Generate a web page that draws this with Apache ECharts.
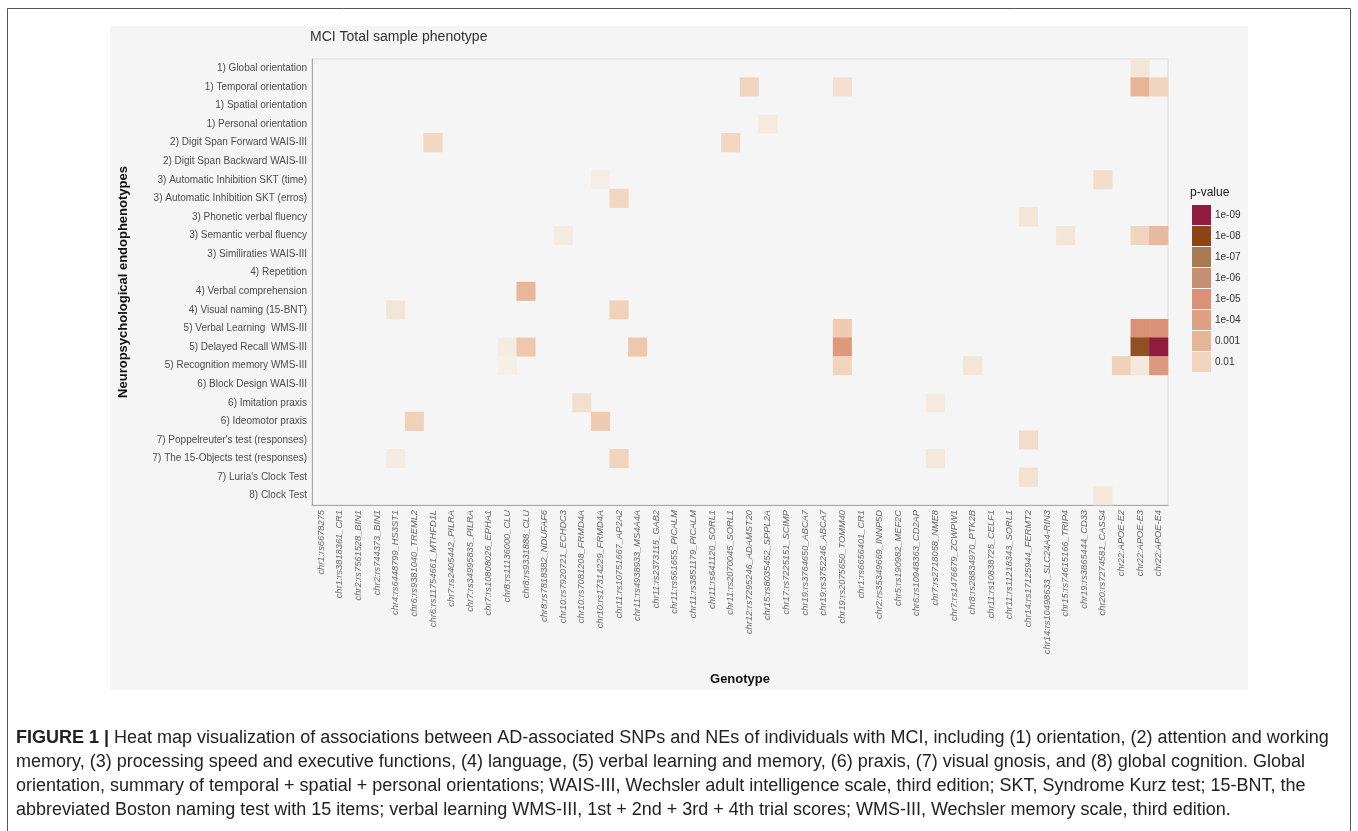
<!DOCTYPE html>
<html>
<head>
<meta charset="utf-8">
<script src="https://cdn.jsdelivr.net/npm/echarts@6/dist/echarts.min.js"></script>
<style>
html,body{margin:0;padding:0;background:#fff;}
#chart{width:1358px;height:831px;}
</style>
</head>
<body>
<div id="chart"></div>
<script>
// ---- data ----
const chartTitle = 'MCI Total sample phenotype';
const xAxisTitle = 'Genotype';
const yAxisTitle = 'Neuropsychological endophenotypes';
const legendTitle = 'p-value';

const genotypes = [
  'chr1:rs6678275', 'chr1:rs3818361_CR1', 'chr2:rs7561528_BIN1', 'chr2:rs744373_BIN1',
  'chr4:rs6448799_HS3ST1', 'chr6:rs9381040_TREML2', 'chr6:rs11754661_MTHFD1L',
  'chr7:rs2405442_PILRA', 'chr7:rs34995835_PILRA', 'chr7:rs10808026_EPHA1',
  'chr8:rs11136000_CLU', 'chr8:rs9331888_CLU', 'chr8:rs7818382_NDUFAF6',
  'chr10:rs7920721_ECHDC3', 'chr10:rs7081208_FRMD4A', 'chr10:rs17314229_FRMD4A',
  'chr11:rs10751667_AP2A2', 'chr11:rs4938933_MS4A4A', 'chr11:rs2373115_GAB2',
  'chr11:rs561655_PICALM', 'chr11:rs3851179_PICALM', 'chr11:rs641120_SORL1',
  'chr11:rs2070045_SORL1', 'chr12:rs7295246_ADAMST20', 'chr15:rs8035452_SPPL2A',
  'chr17:rs7225151_SCIMP', 'chr19:rs3764650_ABCA7', 'chr19:rs3752246_ABCA7',
  'chr19:rs2075650_TOMM40', 'chr1:rs6656401_CR1', 'chr2:rs35349669_INNP5D',
  'chr5:rs190982_MEF2C', 'chr6:rs10948363_CD2AP', 'chr7:rs2718058_NME8',
  'chr7:rs1476679_ZCWPW1', 'chr8:rs28834970_PTK2B', 'chr11:rs10838725_CELF1',
  'chr11:rs11218343_SORL1', 'chr14:rs17125944_FERMT2', 'chr14:rs10498633_SLC24A4-RIN3',
  'chr15:rs74615166_TRIP4', 'chr19:rs3865444_CD33', 'chr20:rs7274581_CASS4',
  'chr22:APOE-E2', 'chr22:APOE-E3', 'chr22:APOE-E4'
];

const phenotypes = [
  '1) Global orientation', '1) Temporal orientation', '1) Spatial orientation',
  '1) Personal orientation', '2) Digit Span Forward WAIS-III', '2) Digit Span Backward WAIS-III',
  '3) Automatic Inhibition SKT (time)', '3) Automatic Inhibition SKT (erros)',
  '3) Phonetic verbal fluency', '3) Semantic verbal fluency', '3) Similiraties WAIS-III',
  '4) Repetition', '4) Verbal comprehension', '4) Visual naming (15-BNT)',
  '5) Verbal Learning  WMS-III', '5) Delayed Recall WMS-III', '5) Recognition memory WMS-III',
  '6) Block Design WAIS-III', '6) Imitation praxis', '6) Ideomotor praxis',
  "7) Poppelreuter's test (responses)", '7) The 15-Objects test (responses)',
  "7) Luria's Clock Test", '8) Clock Test'
];

// significant associations: genotype, phenotype, p-value
const cellGenotype = [
  'chr22:APOE-E3', 'chr12:rs7295246_ADAMST20', 'chr19:rs2075650_TOMM40', 'chr22:APOE-E3', 'chr22:APOE-E4',
  'chr15:rs8035452_SPPL2A', 'chr6:rs11754661_MTHFD1L', 'chr11:rs2070045_SORL1',
  'chr10:rs17314229_FRMD4A', 'chr20:rs7274581_CASS4', 'chr11:rs10751667_AP2A2',
  'chr14:rs17125944_FERMT2', 'chr10:rs7920721_ECHDC3', 'chr15:rs74615166_TRIP4', 'chr22:APOE-E3', 'chr22:APOE-E4',
  'chr8:rs9331888_CLU', 'chr4:rs6448799_HS3ST1', 'chr11:rs10751667_AP2A2',
  'chr19:rs2075650_TOMM40', 'chr22:APOE-E3', 'chr22:APOE-E4',
  'chr8:rs11136000_CLU', 'chr8:rs9331888_CLU', 'chr11:rs4938933_MS4A4A', 'chr19:rs2075650_TOMM40', 'chr22:APOE-E3', 'chr22:APOE-E4',
  'chr8:rs11136000_CLU', 'chr19:rs2075650_TOMM40', 'chr8:rs28834970_PTK2B', 'chr22:APOE-E2', 'chr22:APOE-E3', 'chr22:APOE-E4',
  'chr10:rs7081208_FRMD4A', 'chr7:rs2718058_NME8',
  'chr6:rs9381040_TREML2', 'chr10:rs17314229_FRMD4A',
  'chr14:rs17125944_FERMT2',
  'chr4:rs6448799_HS3ST1', 'chr11:rs10751667_AP2A2', 'chr7:rs2718058_NME8',
  'chr14:rs17125944_FERMT2',
  'chr20:rs7274581_CASS4'
];
const cellPhenotype = [
  '1) Global orientation', '1) Temporal orientation', '1) Temporal orientation', '1) Temporal orientation', '1) Temporal orientation',
  '1) Personal orientation', '2) Digit Span Forward WAIS-III', '2) Digit Span Forward WAIS-III',
  '3) Automatic Inhibition SKT (time)', '3) Automatic Inhibition SKT (time)', '3) Automatic Inhibition SKT (erros)',
  '3) Phonetic verbal fluency', '3) Semantic verbal fluency', '3) Semantic verbal fluency', '3) Semantic verbal fluency', '3) Semantic verbal fluency',
  '4) Verbal comprehension', '4) Visual naming (15-BNT)', '4) Visual naming (15-BNT)',
  '5) Verbal Learning  WMS-III', '5) Verbal Learning  WMS-III', '5) Verbal Learning  WMS-III',
  '5) Delayed Recall WMS-III', '5) Delayed Recall WMS-III', '5) Delayed Recall WMS-III', '5) Delayed Recall WMS-III', '5) Delayed Recall WMS-III', '5) Delayed Recall WMS-III',
  '5) Recognition memory WMS-III', '5) Recognition memory WMS-III', '5) Recognition memory WMS-III', '5) Recognition memory WMS-III', '5) Recognition memory WMS-III', '5) Recognition memory WMS-III',
  '6) Imitation praxis', '6) Imitation praxis',
  '6) Ideomotor praxis', '6) Ideomotor praxis',
  "7) Poppelreuter's test (responses)",
  '7) The 15-Objects test (responses)', '7) The 15-Objects test (responses)', '7) The 15-Objects test (responses)',
  "7) Luria's Clock Test",
  '8) Clock Test'
];
const cellPValue = [
  0.04, 0.01, 0.025, 0.001, 0.01,
  0.06, 0.012, 0.012,
  0.08, 0.02, 0.012,
  0.04, 0.07, 0.04, 0.01, 0.0015,
  0.0012, 0.04, 0.008,
  0.005, 0.00001, 0.00001,
  0.07, 0.004, 0.004, 0.00003, 0.000000016, 0.000000001,
  0.09, 0.01, 0.04, 0.008, 0.05, 0.00003,
  0.025, 0.06,
  0.008, 0.005,
  0.02,
  0.07, 0.01, 0.05,
  0.03,
  0.05
];

const legendLabels = ['0.01', '0.001', '1e-04', '1e-05', '1e-06', '1e-07', '1e-08', '1e-09'];

const captionLines = [
  'Heat map visualization of associations between AD-associated SNPs and NEs of individuals with MCI, including (1) orientation, (2) attention and working',
  'memory, (3) processing speed and executive functions, (4) language, (5) verbal learning and memory, (6) praxis, (7) visual gnosis, and (8) global cognition. Global',
  'orientation, summary of temporal + spatial + personal orientations; WAIS-III, Wechsler adult intelligence scale, third edition; SKT, Syndrome Kurz test; 15-BNT, the',
  'abbreviated Boston naming test with 15 items; verbal learning WMS-III, 1st + 2nd + 3rd + 4th trial scores; WMS-III, Wechsler memory scale, third edition.'
];
const captionLabel = 'FIGURE 1 |';

// ---- styling ----
const scaleColors = ['#f5f0ea', '#f1d4bd', '#e6b596', '#dfa184', '#d99276', '#c68e72', '#a67b52', '#8c4515', '#8f1b3e'];
const legendColors = ['#f1d4bd', '#e6b596', '#dfa184', '#d99276', '#c68e72', '#a67b52', '#8c4515', '#8f1b3e'];

const heatData = cellPValue.map((p, i) => [cellGenotype[i], cellPhenotype[i], -Math.log10(p)]);

const chart = echarts.init(document.getElementById('chart'));
const baseFont = '"Liberation Sans", Arial, sans-serif';

const graphics = [
  { type: 'rect', z: -20, shape: { x: 7.5, y: 8.5, width: 1343, height: 900 }, style: { fill: '#fff', stroke: '#555', lineWidth: 1 } },
  { type: 'rect', z: -10, shape: { x: 110, y: 26, width: 1138, height: 664 }, style: { fill: '#f5f5f5' } }
];
captionLines.forEach((line, i) => {
  graphics.push({
    type: 'text', z: 5, x: 16, y: 738 + i * 24,
    style: {
      text: (i === 0 ? '{b|' + captionLabel + '} ' : '') + line,
      fill: '#222', font: '18px ' + baseFont,
      verticalAlign: 'middle',
      rich: { b: { fontWeight: 'bold', fontSize: 18, fontFamily: baseFont, fill: '#222' } }
    }
  });
});

chart.setOption({
  backgroundColor: '#fff',
  animation: false,
  textStyle: { fontFamily: baseFont },
  title: [
    { text: chartTitle, left: 310, top: 30, padding: 0, textStyle: { fontSize: 14, fontWeight: 'normal', color: '#333', fontFamily: baseFont } },
    { text: legendTitle, left: 1190, top: 187, padding: 0, textStyle: { fontSize: 12, fontWeight: 'normal', color: '#222', fontFamily: baseFont } }
  ],
  graphic: graphics,
  grid: { left: 312, top: 59, width: 856, height: 446, show: true, backgroundColor: 'transparent', borderColor: '#dcdcdc', borderWidth: 1 },
  xAxis: {
    type: 'category', data: genotypes,
    name: xAxisTitle, nameLocation: 'middle', nameGap: 168,
    nameTextStyle: { fontSize: 13, fontWeight: 'bold', color: '#111' },
    axisLine: { lineStyle: { color: '#a8a8a8' } },
    axisTick: { alignWithLabel: true, length: 3, lineStyle: { color: '#888' } },
    axisLabel: { rotate: 90, interval: 0, fontSize: 9.3, fontStyle: 'italic', color: '#6b6b6b', margin: 5 },
    splitLine: { show: false }
  },
  yAxis: {
    type: 'category', data: phenotypes, inverse: true,
    name: yAxisTitle, nameLocation: 'middle', nameGap: 182,
    nameTextStyle: { fontSize: 13, fontWeight: 'bold', color: '#111' },
    axisLine: { lineStyle: { color: '#a8a8a8' } },
    axisTick: { alignWithLabel: true, length: 3, lineStyle: { color: '#888' } },
    axisLabel: { interval: 0, fontSize: 10, color: '#4d4d4d', margin: 5 },
    splitLine: { show: false }
  },
  visualMap: [
    { type: 'continuous', show: false, seriesIndex: 0, dimension: 2, min: 1, max: 9, inRange: { color: scaleColors } },
    {
      type: 'piecewise', seriesIndex: 1, orient: 'vertical', align: 'left', left: 1192, top: 205, padding: 0,
      itemWidth: 19, itemHeight: 20, itemGap: 1, itemSymbol: 'rect', textGap: 4,
      selectedMode: false, hoverLink: false,
      textStyle: { fontSize: 10, color: '#333' },
      pieces: legendLabels.map((l, i) => ({ value: i + 2, label: l, color: legendColors[i] }))
    }
  ],
  series: [
    { type: 'heatmap', data: heatData, itemStyle: { borderWidth: 0 }, emphasis: { disabled: true } },
    { type: 'scatter', data: [], silent: true }
  ]
});
</script>
</body>
</html>
